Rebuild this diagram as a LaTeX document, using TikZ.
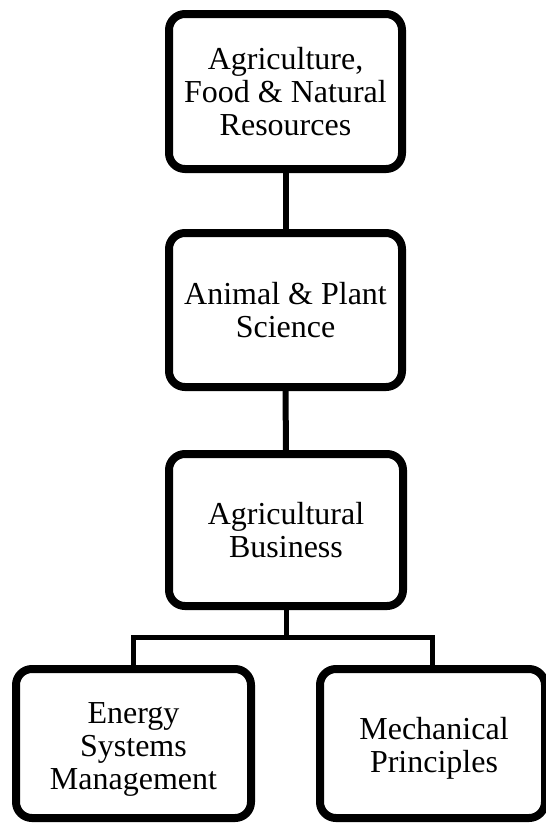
\documentclass[tikz,border=0pt]{standalone}
\usepackage{fontspec}
\setmainfont{Liberation Serif}
\usetikzlibrary{shadows}
\begin{document}
\begin{tikzpicture}[x=1pt,y=-1pt,
  box/.style={draw=black, line width=8pt, rounded corners=16pt, fill=white,
    align=center, font=\fontsize{32}{33}\selectfont, inner sep=0pt,
    drop shadow={opacity=0.25, shadow xshift=2pt, shadow yshift=-3pt}},
  boxtext/.style={align=center, font=\fontsize{32}{33}\selectfont, inner sep=0pt},
  link/.style={line width=6pt},
  barline/.style={line width=5pt, line join=miter}]
\useasboundingbox[fill=white] (0,0) rectangle (546,823);
\node[box, minimum width=233pt, minimum height=155pt] (afnr) at (285.5,91.5) {Agriculture,\\Food \& Natural\\Resources};
\node[box, minimum width=233pt, minimum height=154pt] (aps) at (285.5,310) {Animal \& Plant\\Science};
\node[box, minimum width=234pt, minimum height=152pt] (ab) at (286,530) {Agricultural\\Business};
\node[box, minimum width=235pt, minimum height=149pt] (esm) at (133.5,743.5) {};
\node[boxtext] (esmtext) at (133.5,749) {Energy\\Systems\\Management};
\node[box, minimum width=225pt, minimum height=149pt] (mp) at (432.5,743.5) {};
\node[boxtext] (mptext) at (434,748) {Mechanical\\Principles};
\coordinate (j) at (286,637);
\draw[link] (afnr.south) -- (aps.north);
\draw[link] (aps.south) -- (ab.north);
\draw[barline] (ab.south) -- (j);
\draw[barline] (esm.north) -- (esm.north |- j) -- (mp.north |- j) -- (mp.north);
\end{tikzpicture}
\end{document}
